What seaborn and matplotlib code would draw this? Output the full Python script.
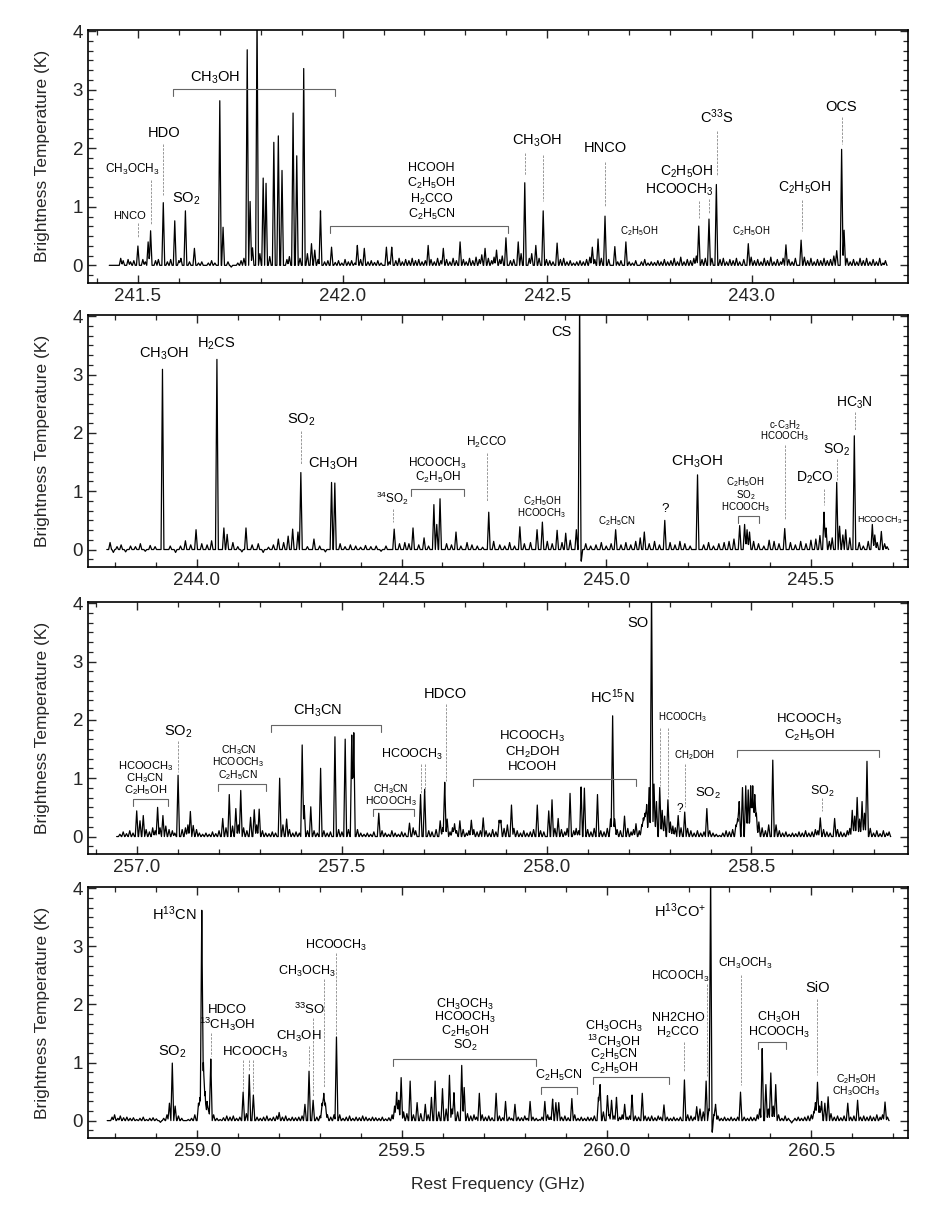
"""
Line survey spectrum, four frequency windows stacked vertically.
"""
import numpy as np
import pandas as pd
import matplotlib
matplotlib.use('Agg')
import matplotlib.pyplot as plt
from matplotlib.ticker import MultipleLocator, FormatStrFormatter
import seaborn as sns

# ---------------------------------------------------------------
# data: line centres (GHz) and peak brightness (K)
# ---------------------------------------------------------------
P1_RANGE = (241.43, 243.33)
P1_FREQ = [241.500, 241.525, 241.531, 241.562, 241.590, 241.616, 241.638, 241.700, 241.708,
           241.767, 241.774, 241.780, 241.791, 241.806, 241.813, 241.832, 241.843, 241.852,
           241.879, 241.888, 241.905, 241.924, 241.932, 241.946, 241.973, 242.036, 242.053,
           242.107, 242.120, 242.209, 242.246, 242.287, 242.348, 242.376, 242.399, 242.429,
           242.445, 242.472, 242.490, 242.524, 242.610, 242.624, 242.641, 242.665, 242.692,
           242.870, 242.895, 242.913, 242.991, 243.083, 243.120, 243.207, 243.219, 243.225]
P1_TB = [0.33, 0.40, 0.59, 1.07, 0.76, 0.93, 0.29, 2.81, 0.65,
         3.68, 1.09, 0.30, 4.30, 1.49, 1.40, 2.10, 2.21, 1.62,
         2.60, 1.87, 3.36, 0.37, 0.26, 0.93, 0.31, 0.34, 0.29,
         0.31, 0.31, 0.34, 0.29, 0.40, 0.29, 0.26, 0.47, 0.40,
         1.41, 0.34, 0.93, 0.38, 0.31, 0.45, 0.84, 0.32, 0.40,
         0.67, 0.79, 1.38, 0.37, 0.35, 0.43, 0.25, 1.98, 0.60]
P1_WEAK = [(241.458, 0.12), (241.464, 0.08), (241.476, 0.10), (241.482, 0.06), (241.490, 0.08),
           (241.512, 0.10), (241.518, 0.06), (241.543, 0.08), (241.550, 0.10), (241.572, 0.06),
           (241.580, 0.10), (241.600, 0.08), (241.605, 0.12), (241.626, 0.06), (241.648, 0.04),
           (241.656, 0.06), (241.672, 0.04), (241.680, 0.08), (241.688, 0.04), (241.720, 0.06),
           (241.728, -0.03), (241.744, 0.04), (241.752, 0.08), (241.759, 0.12), (241.798, 0.20),
           (241.822, 0.15), (241.864, 0.10), (241.870, 0.15), (241.896, 0.12), (241.914, 0.20),
           (241.940, 0.10), (241.956, 0.06), (241.964, 0.08), (241.982, 0.05), (241.990, 0.08),
           (241.998, 0.04), (242.006, 0.10), (242.014, 0.06), (242.022, 0.08), (242.030, 0.04),
           (242.044, 0.10), (242.062, 0.06), (242.070, 0.08), (242.078, 0.05), (242.086, 0.08),
           (242.094, 0.04), (242.114, 0.06), (242.130, 0.08), (242.138, 0.12), (242.146, 0.06),
           (242.154, 0.10), (242.162, 0.08), (242.170, 0.12), (242.178, 0.08), (242.186, 0.10),
           (242.194, 0.06), (242.202, 0.08), (242.216, 0.10), (242.224, 0.06), (242.232, 0.12),
           (242.240, 0.08), (242.254, 0.10), (242.262, 0.06), (242.270, 0.12), (242.278, 0.08),
           (242.295, 0.10), (242.302, 0.06), (242.310, 0.12), (242.318, 0.08), (242.326, 0.14),
           (242.334, 0.10), (242.340, 0.18), (242.356, 0.12), (242.364, 0.08), (242.370, 0.14),
           (242.384, 0.10), (242.390, 0.16), (242.410, 0.08), (242.418, 0.10), (242.436, 0.20),
           (242.456, 0.12), (242.462, 0.20), (242.480, 0.12), (242.498, 0.10), (242.506, 0.08),
           (242.514, 0.06), (242.532, 0.10), (242.540, 0.12), (242.548, 0.06), (242.556, 0.08),
           (242.564, 0.04), (242.572, 0.06), (242.580, 0.08), (242.588, 0.06), (242.596, 0.10),
           (242.604, 0.14), (242.616, 0.10), (242.632, 0.12), (242.650, 0.10), (242.672, 0.06),
           (242.680, 0.08), (242.700, 0.06), (242.708, 0.04), (242.716, 0.08), (242.730, 0.06),
           (242.738, 0.10), (242.746, 0.04), (242.754, 0.06), (242.762, 0.05), (242.770, 0.08),
           (242.778, 0.06), (242.786, 0.10), (242.794, 0.06), (242.802, 0.08), (242.810, 0.12),
           (242.818, 0.06), (242.826, 0.14), (242.834, 0.06), (242.842, 0.10), (242.850, 0.08),
           (242.858, 0.12), (242.864, 0.16), (242.878, 0.10), (242.886, 0.12), (242.902, 0.12),
           (242.922, 0.10), (242.930, 0.12), (242.938, 0.06), (242.946, 0.10), (242.954, 0.08),
           (242.962, 0.12), (242.970, 0.06), (242.980, 0.10), (242.998, 0.14), (243.006, 0.08),
           (243.014, 0.10), (243.022, 0.06), (243.030, 0.12), (243.038, 0.08), (243.046, 0.14),
           (243.054, 0.06), (243.062, 0.10), (243.070, 0.06), (243.076, 0.12), (243.090, 0.10),
           (243.098, 0.06), (243.106, 0.12), (243.128, 0.14), (243.136, 0.08), (243.144, 0.12),
           (243.152, 0.06), (243.160, 0.10), (243.168, 0.08), (243.176, 0.12), (243.184, 0.08),
           (243.192, 0.10), (243.200, 0.16), (243.232, 0.12), (243.240, 0.06), (243.248, 0.10),
           (243.256, 0.06), (243.264, 0.12), (243.272, 0.08), (243.280, 0.12), (243.288, 0.06),
           (243.296, 0.10), (243.304, 0.06), (243.312, 0.12), (243.320, 0.04), (243.326, 0.08)]

P2_RANGE = (243.78, 245.69)
P2_FREQ = [243.916, 243.998, 244.049, 244.066, 244.074, 244.120, 244.199, 244.223, 244.234,
           244.247, 244.254, 244.286, 244.329, 244.337, 244.482, 244.528, 244.555, 244.579,
           244.586, 244.594, 244.633, 244.713, 244.789, 244.831, 244.844, 244.880, 244.901,
           244.927, 244.935, 245.023, 245.093, 245.143, 245.223, 245.326, 245.338, 245.344,
           245.350, 245.436, 245.532, 245.537, 245.563, 245.570, 245.585, 245.606, 245.650,
           245.656, 245.672]
P2_TB = [3.09, 0.34, 3.26, 0.37, 0.26, 0.37, 0.18, 0.23, 0.35,
         0.30, 1.32, 0.18, 1.15, 1.14, 0.35, 0.37, 0.20, 0.77,
         0.43, 0.87, 0.30, 0.64, 0.39, 0.34, 0.47, 0.33, 0.28,
         0.34, 4.30, 0.34, 0.30, 0.50, 1.28, 0.41, 0.43, 0.34,
         0.30, 0.36, 0.64, 0.37, 1.15, 0.40, 0.34, 1.95, 0.43,
         0.25, 0.31]
P2_WEAK = [(243.788, 0.12), (243.796, -0.05), (243.805, 0.05), (243.815, 0.08), (243.826, -0.04),
           (243.838, 0.06), (243.850, 0.05), (243.862, 0.10), (243.874, -0.03), (243.886, 0.07),
           (243.898, 0.05), (243.935, 0.06), (243.948, -0.05), (243.960, 0.06), (243.972, 0.15),
           (243.985, 0.08), (244.012, 0.10), (244.025, 0.08), (244.036, 0.15), (244.088, 0.12),
           (244.100, 0.05), (244.110, -0.04), (244.135, 0.08), (244.150, 0.10), (244.162, -0.05),
           (244.175, 0.04), (244.187, 0.08), (244.212, 0.12), (244.270, 0.05), (244.300, 0.06),
           (244.314, -0.04), (244.350, 0.10), (244.362, 0.05), (244.375, 0.08), (244.388, 0.06),
           (244.400, 0.04), (244.412, 0.07), (244.425, 0.05), (244.438, 0.06), (244.450, -0.03),
           (244.462, 0.06), (244.495, 0.10), (244.508, 0.12), (244.518, 0.10), (244.542, 0.08),
           (244.566, 0.06), (244.610, 0.10), (244.622, 0.08), (244.645, 0.06), (244.660, 0.12),
           (244.672, 0.08), (244.685, 0.06), (244.698, 0.04), (244.725, 0.14), (244.740, 0.08),
           (244.752, 0.06), (244.764, 0.12), (244.776, 0.06), (244.800, 0.10), (244.815, 0.12),
           (244.856, 0.14), (244.868, 0.10), (244.892, 0.12), (244.912, 0.16), (244.939, -0.20),
           (244.950, 0.10), (244.962, 0.06), (244.975, 0.08), (244.988, 0.12), (245.000, 0.06),
           (245.012, 0.10), (245.036, 0.08), (245.048, 0.12), (245.060, 0.08), (245.072, 0.14),
           (245.083, 0.20), (245.105, 0.10), (245.118, 0.14), (245.130, 0.08), (245.156, 0.12),
           (245.168, 0.08), (245.180, 0.14), (245.192, 0.10), (245.205, 0.06), (245.238, 0.08),
           (245.250, 0.12), (245.262, 0.06), (245.275, 0.10), (245.288, 0.12), (245.300, 0.14),
           (245.312, 0.18), (245.360, 0.14), (245.372, 0.10), (245.385, 0.06), (245.398, 0.16),
           (245.410, 0.14), (245.422, 0.10), (245.450, 0.12), (245.462, 0.08), (245.475, 0.14),
           (245.488, 0.10), (245.500, 0.16), (245.512, 0.18), (245.522, 0.24), (245.545, 0.14),
           (245.552, 0.20), (245.578, 0.25), (245.595, 0.20), (245.618, 0.12), (245.628, 0.06),
           (245.640, 0.14), (245.662, 0.12), (245.680, 0.10), (245.686, 0.05)]

P3_RANGE = (256.95, 258.84)
P3_FREQ = [256.999, 257.007, 257.015, 257.050, 257.063, 257.100, 257.130, 257.137, 257.209,
           257.225, 257.241, 257.253, 257.277, 257.286, 257.298, 257.348, 257.365, 257.403,
           257.408, 257.424, 257.448, 257.483, 257.508, 257.524, 257.529, 257.590, 257.665,
           257.692, 257.702, 257.740, 257.751, 257.757, 257.775, 257.788, 257.816, 257.845,
           257.884, 257.888, 257.914, 257.977, 258.005, 258.013, 258.028, 258.057, 258.084,
           258.092, 258.124, 258.161, 258.190, 258.218, 258.236, 258.250, 258.256, 258.262,
           258.276, 258.296, 258.321, 258.337, 258.391, 258.470, 258.478, 258.486, 258.492,
           258.498, 258.503, 258.508, 258.552, 258.668, 258.703, 258.746, 258.758, 258.770,
           258.782]
P3_TB = [0.44, 0.27, 0.36, 0.50, 0.36, 1.05, 0.43, 0.19, 0.31,
         0.72, 0.48, 0.79, 0.33, 0.46, 0.47, 1.00, 0.30, 1.57,
         0.53, 0.51, 1.17, 1.71, 1.67, 1.74, 1.78, 0.40, 0.23,
         0.72, 0.81, 0.27, 0.93, 0.30, 0.22, 0.27, 0.28, 0.32,
         0.28, 0.28, 0.54, 0.54, 0.44, 0.63, 0.31, 0.74, 0.85,
         0.83, 0.72, 2.07, 0.35, 0.22, 0.32, 0.84, 4.30, 0.90,
         0.84, 0.63, 0.36, 0.42, 0.48, 0.60, 0.84, 0.87, 0.80,
         0.87, 0.87, 0.72, 1.31, 0.32, 0.31, 0.45, 0.67, 0.60,
         1.29]
P3_WEAK = [(256.958, 0.04), (256.966, 0.08), (256.974, 0.05), (256.982, 0.10), (256.990, 0.06),
           (257.022, 0.12), (257.030, 0.08), (257.038, 0.15), (257.044, 0.10), (257.056, 0.15),
           (257.070, 0.18), (257.078, 0.12), (257.086, 0.10), (257.092, 0.06), (257.110, 0.12),
           (257.118, 0.15), (257.124, 0.20), (257.145, 0.12), (257.152, 0.06), (257.160, 0.04),
           (257.168, 0.06), (257.176, 0.04), (257.184, 0.08), (257.192, 0.05), (257.200, 0.10),
           (257.217, 0.15), (257.233, 0.18), (257.247, 0.20), (257.260, 0.15), (257.268, 0.10),
           (257.292, 0.20), (257.306, 0.10), (257.314, 0.06), (257.322, 0.05), (257.330, 0.08),
           (257.338, 0.06), (257.356, 0.20), (257.372, 0.12), (257.380, 0.06), (257.388, 0.08),
           (257.396, 0.06), (257.416, 0.10), (257.432, 0.10), (257.440, 0.06), (257.456, 0.10),
           (257.464, 0.06), (257.472, 0.08), (257.492, 0.12), (257.500, 0.08), (257.516, 0.12),
           (257.538, 0.12), (257.546, 0.06), (257.554, 0.04), (257.562, 0.06), (257.570, 0.04),
           (257.578, 0.08), (257.598, 0.10), (257.606, 0.06), (257.614, 0.04), (257.622, 0.10),
           (257.630, 0.06), (257.638, 0.04), (257.646, 0.08), (257.654, 0.06), (257.674, 0.15),
           (257.680, 0.10), (257.712, 0.10), (257.720, 0.08), (257.730, 0.12), (257.746, 0.15),
           (257.764, 0.08), (257.770, 0.15), (257.780, 0.10), (257.796, 0.12), (257.804, 0.06),
           (257.810, 0.10), (257.822, 0.12), (257.830, 0.08), (257.838, 0.10), (257.852, 0.10),
           (257.860, 0.06), (257.868, 0.12), (257.876, 0.08), (257.896, 0.14), (257.904, 0.20),
           (257.920, 0.14), (257.928, 0.10), (257.936, 0.06), (257.944, 0.10), (257.952, 0.06),
           (257.960, 0.08), (257.968, 0.12), (257.985, 0.10), (257.993, 0.08), (258.020, 0.14),
           (258.036, 0.12), (258.044, 0.08), (258.050, 0.14), (258.066, 0.10), (258.072, 0.14),
           (258.078, 0.10), (258.100, 0.12), (258.108, 0.08), (258.116, 0.14), (258.132, 0.10),
           (258.140, 0.08), (258.148, 0.14), (258.156, 0.30), (258.166, 0.30), (258.172, 0.12),
           (258.180, 0.10), (258.198, 0.14), (258.206, 0.08), (258.212, 0.12), (258.226, 0.10),
           (258.232, 0.20), (258.240, 0.40), (258.244, 0.55), (258.268, 0.60), (258.282, 0.45),
           (258.288, 0.35), (258.302, 0.25), (258.308, 0.18), (258.314, 0.15), (258.328, 0.15),
           (258.344, 0.14), (258.352, 0.10), (258.360, 0.06), (258.368, 0.10), (258.376, 0.06),
           (258.384, 0.08), (258.398, 0.10), (258.406, 0.06), (258.414, 0.04), (258.422, 0.02),
           (258.430, 0.06), (258.438, 0.10), (258.446, 0.08), (258.454, 0.12), (258.462, 0.20),
           (258.466, 0.30), (258.512, 0.40), (258.518, 0.25),
           (258.526, 0.15), (258.534, 0.10), (258.542, 0.20), (258.560, 0.20), (258.568, 0.10),
           (258.576, 0.06), (258.584, 0.08), (258.592, 0.04), (258.600, 0.06), (258.608, 0.05),
           (258.616, 0.08), (258.624, 0.06), (258.632, 0.10), (258.640, 0.06), (258.648, 0.08),
           (258.656, 0.12), (258.662, 0.10), (258.676, 0.12), (258.684, 0.08), (258.692, 0.06),
           (258.710, 0.12), (258.718, 0.08), (258.726, 0.06), (258.734, 0.10), (258.740, 0.14),
           (258.752, 0.35), (258.764, 0.30), (258.776, 0.40), (258.790, 0.14), (258.798, 0.06),
           (258.806, 0.10), (258.814, 0.05), (258.822, 0.10), (258.830, 0.06), (258.836, 0.08)]

P4_RANGE = (258.78, 260.69)
P4_FREQ = [258.939, 259.007, 259.011, 259.015, 259.024, 259.033, 259.112, 259.127, 259.137,
           259.263, 259.273, 259.283, 259.309, 259.313, 259.340, 259.487, 259.492, 259.498,
           259.520, 259.537, 259.557, 259.572, 259.581, 259.599, 259.616, 259.627, 259.646,
           259.652, 259.689, 259.730, 259.753, 259.776, 259.813, 259.849, 259.868, 259.876,
           259.883, 259.915, 259.980, 259.984, 260.002, 260.012, 260.024, 260.044, 260.062,
           260.087, 260.140, 260.190, 260.220, 260.243, 260.254, 260.266, 260.327, 260.380,
           260.389, 260.401, 260.413, 260.510, 260.515, 260.525, 260.533, 260.541, 260.589,
           260.613, 260.680]
P4_TB = [0.99, 0.40, 3.62, 1.00, 0.33, 1.06, 0.49, 0.79, 0.44,
         0.28, 0.85, 0.35, 0.47, 0.30, 1.44, 0.49, 0.35, 0.74,
         0.68, 0.31, 0.28, 0.40, 0.68, 0.55, 0.78, 0.48, 0.95,
         0.57, 0.47, 0.47, 0.33, 0.28, 0.33, 0.33, 0.37, 0.31,
         0.31, 0.38, 0.40, 0.62, 0.43, 0.35, 0.40, 0.28, 0.44,
         0.47, 0.27, 0.70, 0.24, 0.68, 4.30, 0.28, 0.49, 1.24,
         0.62, 0.82, 0.62, 0.31, 0.66, 0.33, 0.30, 0.41, 0.30,
         0.35, 0.32]
P4_WEAK = [(258.792, 0.06), (258.798, 0.10), (258.806, 0.04), (258.812, 0.08), (258.820, 0.05),
           (258.828, 0.06), (258.836, 0.04), (258.844, 0.05), (258.852, 0.02), (258.860, 0.04),
           (258.868, 0.06), (258.876, 0.02), (258.884, 0.04), (258.892, 0.05), (258.900, 0.03),
           (258.910, -0.03), (258.918, 0.04), (258.926, 0.10), (258.932, 0.30), (258.946, 0.25),
           (258.954, 0.08), (258.962, 0.04), (258.978, 0.02), (258.986, 0.04), (258.994, 0.10),
           (259.003, 0.30), (259.019, 0.50), (259.028, 0.20), (259.040, 0.10), (259.048, 0.04),
           (259.056, 0.02), (259.064, 0.05), (259.072, 0.08), (259.080, 0.06), (259.088, 0.08),
           (259.096, 0.04), (259.104, 0.06), (259.120, 0.12), (259.146, 0.06), (259.154, 0.04),
           (259.162, 0.06), (259.170, 0.08), (259.178, 0.04), (259.186, 0.06), (259.194, 0.08),
           (259.200, 0.14), (259.208, 0.06), (259.216, 0.08), (259.224, 0.04), (259.232, 0.06),
           (259.240, 0.05), (259.248, 0.06), (259.256, 0.08), (259.292, 0.06), (259.300, 0.08),
           (259.305, 0.30), (259.318, 0.10), (259.326, 0.06), (259.334, 0.10), (259.348, 0.10),
           (259.356, 0.04), (259.364, 0.06), (259.372, 0.08), (259.380, 0.04), (259.388, 0.06),
           (259.396, 0.05), (259.404, 0.08), (259.412, 0.06), (259.420, 0.04), (259.428, 0.06),
           (259.436, 0.05), (259.444, 0.04), (259.452, 0.06), (259.460, 0.03), (259.468, 0.05),
           (259.476, 0.10), (259.482, 0.25), (259.504, 0.15), (259.512, 0.12), (259.528, 0.10),
           (259.546, 0.12), (259.564, 0.10), (259.590, 0.15), (259.608, 0.20), (259.622, 0.20),
           (259.636, 0.15), (259.660, 0.12), (259.668, 0.08), (259.676, 0.10), (259.682, 0.06),
           (259.696, 0.10), (259.704, 0.06), (259.712, 0.08), (259.720, 0.05), (259.738, 0.08),
           (259.746, 0.05), (259.762, 0.06), (259.768, 0.04), (259.784, 0.06), (259.792, 0.05),
           (259.800, 0.08), (259.806, 0.04), (259.820, 0.06), (259.828, 0.04), (259.836, 0.02),
           (259.842, 0.06), (259.856, 0.10), (259.862, 0.06), (259.890, 0.06), (259.898, 0.08),
           (259.906, 0.05), (259.922, 0.10), (259.930, 0.04), (259.938, 0.06), (259.946, 0.04),
           (259.954, 0.06), (259.962, 0.05), (259.970, 0.08), (259.992, 0.15), (260.006, 0.10),
           (260.018, 0.08), (260.032, 0.06), (260.038, 0.10), (260.050, 0.06), (260.056, 0.08),
           (260.070, 0.08), (260.078, 0.06), (260.094, 0.08), (260.102, 0.06), (260.110, 0.08),
           (260.118, 0.05), (260.126, 0.08), (260.132, 0.06), (260.148, 0.06), (260.156, 0.04),
           (260.164, 0.06), (260.172, 0.04), (260.180, 0.06), (260.198, 0.10), (260.206, 0.08),
           (260.214, 0.06), (260.228, 0.20), (260.236, 0.15), (260.250, 0.20), (260.258, -0.20),
           (260.262, 0.10), (260.272, 0.08), (260.280, 0.04), (260.288, 0.06), (260.296, 0.04),
           (260.304, 0.06), (260.312, 0.04), (260.320, 0.06), (260.336, 0.06), (260.344, 0.04),
           (260.352, 0.06), (260.360, 0.05), (260.368, 0.10), (260.374, 0.20), (260.395, 0.20),
           (260.407, 0.25), (260.420, 0.10), (260.428, 0.04), (260.436, 0.08), (260.444, 0.04),
           (260.452, -0.04), (260.460, 0.04), (260.468, 0.06), (260.476, 0.04), (260.484, 0.06),
           (260.492, 0.08), (260.500, 0.10), (260.506, 0.15), (260.520, 0.25), (260.548, 0.12),
           (260.556, 0.06), (260.564, 0.08), (260.572, 0.05), (260.580, 0.08), (260.596, 0.06),
           (260.604, 0.08), (260.620, 0.06), (260.628, 0.08), (260.636, 0.06), (260.644, 0.08),
           (260.652, 0.06), (260.660, 0.10), (260.668, 0.06), (260.674, 0.10), (260.686, 0.06)]

XLIMS = [(241.378, 243.381), (243.734, 245.737), (256.880, 258.882), (258.733, 260.736)]

# ---------------------------------------------------------------
# annotations: (label, freq, T, fontsize), leaders (freq, T_top, T_bottom),
# brackets (freq_left, freq_right, T)
# ---------------------------------------------------------------
P1_LABELS = [("HNCO", 241.479, 0.85, 8), ("CH$_3$OCH$_3$", 241.487, 1.63, 8.5),
             ("HDO", 241.564, 2.26, 10.5), ("SO$_2$", 241.619, 1.13, 10.5),
             ("CH$_3$OH", 241.689, 3.20, 10.5),
             ("HCOOH", 242.217, 1.66, 9), ("C$_2$H$_5$OH", 242.217, 1.40, 9),
             ("H$_2$CCO", 242.217, 1.13, 9), ("C$_2$H$_5$CN", 242.217, 0.87, 9),
             ("CH$_3$OH", 242.474, 2.13, 10.5), ("HNCO", 242.641, 2.01, 10.5),
             ("C$_2$H$_5$OH", 242.724, 0.59, 7), ("C$_2$H$_5$OH", 242.840, 1.59, 10),
             ("HCOOCH$_3$", 242.822, 1.29, 10), ("C$^{33}$S", 242.915, 2.54, 10.5),
             ("C$_2$H$_5$OH", 242.999, 0.59, 7), ("C$_2$H$_5$OH", 243.128, 1.33, 10),
             ("OCS", 243.217, 2.71, 10.5)]
P1_LEADERS = [(241.499, 0.73, 0.46), (241.531, 1.46, 0.70), (241.562, 2.07, 1.20),
              (242.445, 1.91, 1.54), (242.490, 1.89, 1.09), (242.641, 1.76, 0.99),
              (242.870, 1.10, 0.80), (242.895, 1.13, 0.89), (242.915, 2.30, 1.54),
              (243.121, 1.11, 0.59), (243.219, 2.53, 2.07)]
P1_BRACKETS = [(241.585, 241.981, 3.01), (241.969, 242.404, 0.67)]

P2_LABELS = [("CH$_3$OH", 243.920, 3.36, 10.5), ("H$_2$CS", 244.048, 3.53, 10.5),
             ("SO$_2$", 244.254, 2.22, 10.5), ("CH$_3$OH", 244.333, 1.47, 10.5),
             ("$^{34}$SO$_2$", 244.479, 0.88, 8.5), ("HCOOCH$_3$", 244.588, 1.47, 8.5),
             ("C$_2$H$_5$OH", 244.588, 1.23, 8.5), ("H$_2$CCO", 244.708, 1.84, 8.5),
             ("C$_2$H$_5$OH", 244.843, 0.83, 7), ("HCOOCH$_3$", 244.843, 0.62, 7),
             ("CS", 244.891, 3.73, 10.5), ("C$_2$H$_5$CN", 245.025, 0.48, 7),
             ("?", 245.143, 0.70, 9.5), ("CH$_3$OH", 245.221, 1.51, 11),
             ("C$_2$H$_5$OH", 245.340, 1.15, 7), ("SO$_2$", 245.340, 0.94, 7),
             ("HCOOCH$_3$", 245.340, 0.73, 7), ("c-C$_3$H$_2$", 245.436, 2.14, 7),
             ("HCOOCH$_3$", 245.436, 1.94, 7), ("D$_2$CO", 245.509, 1.23, 10),
             ("SO$_2$", 245.563, 1.71, 10), ("HC$_3$N", 245.607, 2.52, 10),
             ("HCOOCH$_3$", 245.668, 0.51, 6.5)]
P2_LEADERS = [(244.254, 2.03, 1.46), (244.479, 0.70, 0.48), (244.708, 1.65, 0.83),
              (245.436, 1.79, 0.51), (245.532, 1.04, 0.77), (245.563, 1.55, 1.20),
              (245.607, 2.35, 2.05)]
P2_BRACKETS = [(244.524, 244.652, 1.04), (245.321, 245.373, 0.57)]

P3_LABELS = [("HCOOCH$_3$", 257.020, 1.21, 8), ("CH$_3$CN", 257.020, 1.00, 8),
             ("C$_2$H$_5$OH", 257.020, 0.79, 8), ("SO$_2$", 257.101, 1.80, 10.5),
             ("CH$_3$CN", 257.247, 1.48, 7.5), ("HCOOCH$_3$", 257.247, 1.27, 7.5),
             ("C$_2$H$_5$CN", 257.247, 1.06, 7.5), ("CH$_3$CN", 257.440, 2.16, 10.5),
             ("CH$_3$CN", 257.620, 0.81, 7.5), ("HCOOCH$_3$", 257.620, 0.61, 7.5),
             ("HCOOCH$_3$", 257.671, 1.40, 9), ("HDCO", 257.753, 2.45, 10.5),
             ("HCOOCH$_3$", 257.965, 1.72, 9.5), ("CH$_2$DOH", 257.965, 1.45, 9.5),
             ("HCOOH", 257.965, 1.20, 9.5), ("HC$^{15}$N", 258.161, 2.39, 10.5),
             ("SO", 258.222, 3.66, 10.5), ("HCOOCH$_3$", 258.331, 2.05, 7),
             ("CH$_2$DOH", 258.362, 1.40, 7), ("?", 258.325, 0.48, 8.5),
             ("SO$_2$", 258.395, 0.74, 9.5), ("HCOOCH$_3$", 258.641, 2.00, 9.5),
             ("C$_2$H$_5$OH", 258.641, 1.74, 9.5), ("SO$_2$", 258.672, 0.78, 9)]
P3_LEADERS = [(257.101, 1.63, 1.10), (257.692, 1.25, 0.73), (257.702, 1.25, 0.73),
              (257.753, 2.28, 0.96), (258.276, 1.86, 0.87), (258.296, 1.86, 0.67),
              (258.337, 1.24, 0.50), (258.672, 0.66, 0.44)]
P3_BRACKETS = [(256.991, 257.075, 0.64), (257.197, 257.314, 0.90), (257.326, 257.596, 1.92),
               (257.575, 257.677, 0.47), (257.820, 258.217, 0.98), (258.464, 258.811, 1.48)]

P4_LABELS = [("H$^{13}$CN", 258.944, 3.56, 10.5), ("SO$_2$", 258.940, 1.19, 10.5),
             ("HDCO", 259.073, 1.90, 9.5), ("$^{13}$CH$_3$OH", 259.072, 1.66, 9.5),
             ("HCOOCH$_3$", 259.141, 1.17, 9.5), ("CH$_3$OH", 259.248, 1.45, 9.5),
             ("$^{33}$SO", 259.275, 1.91, 9.5), ("CH$_3$OCH$_3$", 259.267, 2.57, 9),
             ("HCOOCH$_3$", 259.338, 3.01, 9),
             ("CH$_3$OCH$_3$", 259.654, 2.00, 9), ("HCOOCH$_3$", 259.654, 1.77, 9),
             ("C$_2$H$_5$OH", 259.654, 1.53, 9), ("SO$_2$", 259.654, 1.29, 9),
             ("C$_2$H$_5$CN", 259.884, 0.78, 9),
             ("CH$_3$OCH$_3$", 260.018, 1.62, 9), ("$^{13}$CH$_3$OH", 260.018, 1.37, 9),
             ("C$_2$H$_5$CN", 260.018, 1.13, 9), ("C$_2$H$_5$OH", 260.018, 0.90, 9),
             ("NH2CHO", 260.175, 1.76, 9), ("H$_2$CCO", 260.175, 1.51, 9),
             ("HCOOCH$_3$", 260.179, 2.48, 8.5), ("H$^{13}$CO$^{+}$", 260.179, 3.62, 10.5),
             ("CH$_3$OCH$_3$", 260.338, 2.71, 8.5), ("SiO", 260.515, 2.29, 10.5),
             ("CH$_3$OH", 260.421, 1.78, 9), ("HCOOCH$_3$", 260.421, 1.52, 9),
             ("C$_2$H$_5$OH", 260.609, 0.72, 7.5), ("CH$_3$OCH$_3$", 260.609, 0.51, 7.5)]
P4_LEADERS = [(259.033, 1.51, 1.11), (259.112, 1.05, 0.51), (259.127, 1.05, 0.85),
              (259.137, 1.05, 0.51), (259.273, 1.28, 0.94), (259.283, 1.76, 0.43),
              (259.309, 2.44, 0.57), (259.340, 2.89, 1.48), (260.190, 1.36, 0.83),
              (260.244, 2.35, 0.77), (260.327, 2.50, 0.62), (260.515, 2.10, 0.78)]
P4_BRACKETS = [(259.479, 259.827, 1.06), (259.839, 259.928, 0.57),
               (259.966, 260.153, 0.75), (260.370, 260.438, 1.36)]

PANELS = [
    (P1_RANGE, P1_FREQ, P1_TB, P1_WEAK, P1_LABELS, P1_LEADERS, P1_BRACKETS),
    (P2_RANGE, P2_FREQ, P2_TB, P2_WEAK, P2_LABELS, P2_LEADERS, P2_BRACKETS),
    (P3_RANGE, P3_FREQ, P3_TB, P3_WEAK, P3_LABELS, P3_LEADERS, P3_BRACKETS),
    (P4_RANGE, P4_FREQ, P4_TB, P4_WEAK, P4_LABELS, P4_LEADERS, P4_BRACKETS),
]

# axes boxes in figure fraction (left, bottom, width, height)
AX_BOXES = [(0.095, 0.766, 0.8855, 0.2093), (0.095, 0.531, 0.8855, 0.2084),
            (0.095, 0.2936, 0.8855, 0.2084), (0.095, 0.0587, 0.8855, 0.2076)]

HALF_WIDTH = 0.0035   # GHz, half width at the base of each drawn line


def spectrum(frange, freqs, tbs, weak):
    """Sample the read-off line list on a fine frequency grid."""
    x = np.arange(frange[0], frange[1] + 1e-9, 0.0005)
    y = np.zeros_like(x)
    centres = list(freqs) + [w[0] for w in weak]
    heights = list(tbs) + [w[1] for w in weak]
    for f, h in zip(centres, heights):
        y += h * np.clip(1 - np.abs(x - f) / HALF_WIDTH, 0, None)
    return pd.DataFrame({'freq': x, 'tb': y})


sns.set_theme(style='ticks')
plt.rcParams['font.family'] = ['Liberation Sans', 'DejaVu Sans']
plt.rcParams['mathtext.fontset'] = 'custom'
plt.rcParams['mathtext.rm'] = 'Liberation Sans'
plt.rcParams['mathtext.it'] = 'Liberation Sans:italic'
plt.rcParams['mathtext.bf'] = 'Liberation Sans:bold'
plt.rcParams['mathtext.default'] = 'regular'

fig = plt.figure(figsize=(9.26, 12.09), dpi=100)

for i, (frange, freqs, tbs, weak, labels, leaders, brackets) in enumerate(PANELS):
    assert len(freqs) == len(tbs)
    ax = fig.add_axes(AX_BOXES[i])
    df = spectrum(frange, freqs, tbs, weak)
    sns.lineplot(data=df, x='freq', y='tb', ax=ax, color='black', linewidth=0.9,
                 estimator=None, sort=False)

    for fx, y0, y1 in leaders:
        ax.plot([fx, fx], [y0, y1], color='#888888', lw=0.6, ls=(0, (3, 1.5)))
    for x0, x1, yb in brackets:
        ax.plot([x0, x0, x1, x1], [yb - 0.12, yb, yb, yb - 0.12], color='#666666', lw=0.8)
    for txt, fx, ty, fs in labels:
        ax.text(fx, ty, txt, ha='center', va='center', fontsize=fs, color='black')

    ax.set_xlim(*XLIMS[i])
    ax.set_ylim(-0.3, 4.02)
    ax.xaxis.set_major_locator(MultipleLocator(0.5))
    ax.xaxis.set_minor_locator(MultipleLocator(0.1))
    ax.xaxis.set_major_formatter(FormatStrFormatter('%.1f'))
    ax.yaxis.set_major_locator(MultipleLocator(1))
    ax.yaxis.set_minor_locator(MultipleLocator(1 / 6))
    ax.tick_params(which='both', direction='in', top=True, right=True, labelsize=13.5)
    ax.tick_params(which='major', length=6, width=1)
    ax.tick_params(which='minor', length=3.5, width=0.9)
    for sp in ax.spines.values():
        sp.set_linewidth(1.2)
        sp.set_color('black')
    ax.set_ylabel('Brightness Temperature (K)', fontsize=12.5)
    ax.yaxis.set_label_coords(-0.046, 0.5)
    ax.set_xlabel('')

ax.set_xlabel('Rest Frequency (GHz)', fontsize=12.5, labelpad=12)

plt.savefig('out.png', dpi=100)
plt.close()
